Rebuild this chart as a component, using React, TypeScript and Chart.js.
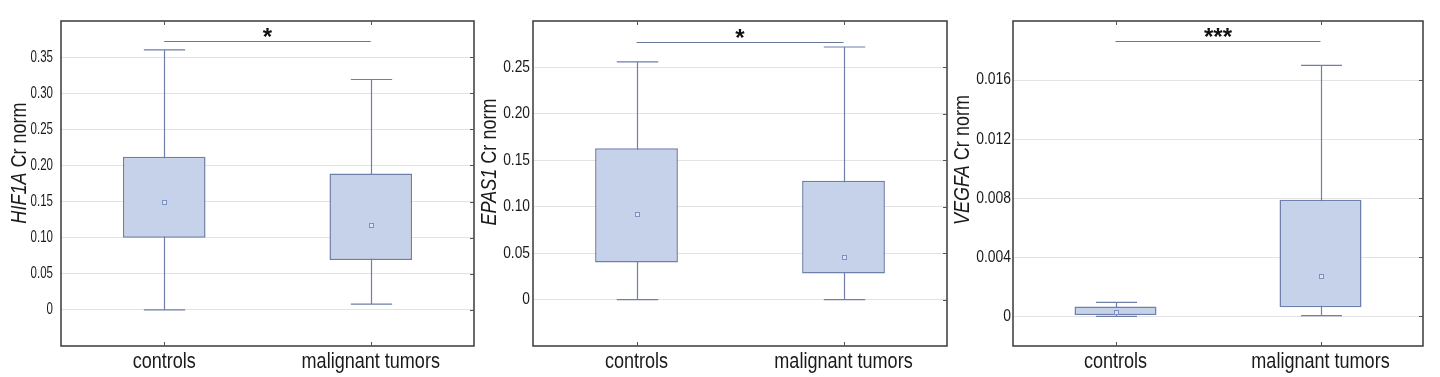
import React, { useEffect, useRef } from "react";
import { Chart, registerables } from "chart.js";

Chart.register(...registerables);

// ---------- data ----------
const categories = ["controls", "malignant tumors"];

const hif1aQ1 = [0.1, 0.069];
const hif1aQ3 = [0.212, 0.189];
const hif1aMean = [0.15, 0.118];
const hif1aMin = [0.0, 0.008];
const hif1aMax = [0.36, 0.319];
const hif1aTicks = [0, 0.05, 0.1, 0.15, 0.2, 0.25, 0.3, 0.35];
const hif1aTickLabels = ["0", "0.05", "0.10", "0.15", "0.20", "0.25", "0.30", "0.35"];
const hif1aSigLevel = 0.372;

const epas1Q1 = [0.04, 0.028];
const epas1Q3 = [0.163, 0.128];
const epas1Mean = [0.092, 0.046];
const epas1Min = [0.0, 0.0];
const epas1Max = [0.256, 0.272];
const epas1Ticks = [0, 0.05, 0.1, 0.15, 0.2, 0.25];
const epas1TickLabels = ["0", "0.05", "0.10", "0.15", "0.20", "0.25"];
const epas1SigLevel = 0.2777;

const vegfaQ1 = [0.0001, 0.00063];
const vegfaQ3 = [0.00068, 0.0079];
const vegfaMean = [0.0003, 0.00274];
const vegfaMin = [0.0, 0.00005];
const vegfaMax = [0.00095, 0.017];
const vegfaTicks = [0, 0.004, 0.008, 0.012, 0.016];
const vegfaTickLabels = ["0", "0.004", "0.008", "0.012", "0.016"];
const vegfaSigLevel = 0.01864;

const geneNames = ["HIF1A", "EPAS1", "VEGFA"];
const titleRest = " Cr norm";
const significance = ["*", "*", "***"];

// ---------- panels built from data ----------
const panels = [
  { gene: geneNames[0], q1: hif1aQ1, q3: hif1aQ3, mean: hif1aMean, min: hif1aMin, max: hif1aMax, yMin: -0.05, yMax: 0.4, ticks: hif1aTicks, tickLabels: hif1aTickLabels, sig: hif1aSigLevel, stars: significance[0] },
  { gene: geneNames[1], q1: epas1Q1, q3: epas1Q3, mean: epas1Mean, min: epas1Min, max: epas1Max, yMin: -0.05, yMax: 0.3, ticks: epas1Ticks, tickLabels: epas1TickLabels, sig: epas1SigLevel, stars: significance[1] },
  { gene: geneNames[2], q1: vegfaQ1, q3: vegfaQ3, mean: vegfaMean, min: vegfaMin, max: vegfaMax, yMin: -0.002, yMax: 0.02, ticks: vegfaTicks, tickLabels: vegfaTickLabels, sig: vegfaSigLevel, stars: significance[2] },
];

// ---------- layout / style ----------
const layouts = [
  { left: 0, width: 478, axisW: 61, rightPad: 4, titleX: 20, titleY: 163, tickGap: 8, tickScale: 0.72 },
  { left: 478, width: 472, axisW: 55, rightPad: 3, titleX: 12, titleY: 162, tickGap: 3, tickScale: 0.86 },
  { left: 950, width: 490, axisW: 63, rightPad: 17, titleX: 13, titleY: 160, tickGap: 2, tickScale: 0.87 },
];
const H = 377;
const TOP = 21;
const XAXIS_H = 31;
const XLABEL_BASELINE = 368;

const FONT = "'Liberation Sans', Arial, sans-serif";
const CONDENSE = 0.82;
const BOX_FILL = "#c5d2e9";
const BOX_EDGE = "#6e7fa9";
const WHISKER = "#6f7fa8";
const GRID = "#e3e3e3";
const FRAME = "#3a3a3a";
const TEXT = "#1a1a1a";

function drawText(ctx: CanvasRenderingContext2D, text: string, x: number, y: number, font: string, align: CanvasTextAlign, baseline: CanvasTextBaseline, sx: number) {
  ctx.save();
  ctx.translate(x, y);
  ctx.scale(sx, 1);
  ctx.font = font;
  ctx.textAlign = align;
  ctx.textBaseline = baseline;
  ctx.fillStyle = TEXT;
  ctx.fillText(text, 0, 0);
  ctx.restore();
}

function makePlugin(p: any, lay: any) {
  return {
    id: "boxExtras",
    beforeDatasetsDraw(chart: any) {
      const { ctx, scales } = chart;
      const x = scales.x, y = scales.y;
      const meta = chart.getDatasetMeta(0);
      ctx.save();
      ctx.strokeStyle = WHISKER;
      ctx.lineWidth = 1.2;
      p.q1.forEach((_: number, i: number) => {
        const cx = Math.round(x.getPixelForValue(i)) + 0.5;
        const bw = meta.data[i].width;
        const hw = bw * 0.25;
        const yMax = y.getPixelForValue(p.max[i]);
        const yMin = y.getPixelForValue(p.min[i]);
        ctx.beginPath();
        ctx.moveTo(cx, yMax);
        ctx.lineTo(cx, yMin);
        ctx.moveTo(cx - hw, yMax);
        ctx.lineTo(cx + hw, yMax);
        ctx.moveTo(cx - hw, yMin);
        ctx.lineTo(cx + hw, yMin);
        ctx.stroke();
      });
      ctx.restore();
    },
    afterDatasetsDraw(chart: any) {
      const { ctx, scales } = chart;
      const x = scales.x, y = scales.y;
      ctx.save();
      p.mean.forEach((m: number, i: number) => {
        const cx = Math.round(x.getPixelForValue(i));
        const cy = Math.round(y.getPixelForValue(m));
        ctx.fillStyle = "#dbe3f3";
        ctx.fillRect(cx - 2, cy - 2, 4, 4);
        ctx.strokeStyle = "#7d90c2";
        ctx.lineWidth = 1;
        ctx.strokeRect(cx - 2 + 0.5, cy - 2 + 0.5, 4, 4);
      });
      ctx.restore();
    },
    afterDraw(chart: any) {
      const { ctx, scales, chartArea } = chart;
      const x = scales.x, y = scales.y;
      const { left, right, top, bottom } = chartArea;
      ctx.save();
      // frame
      ctx.strokeStyle = FRAME;
      ctx.lineWidth = 1.5;
      ctx.strokeRect(left, top, right - left, bottom - top);
      // inward ticks
      ctx.lineWidth = 1;
      ctx.strokeStyle = "#555";
      ctx.beginPath();
      p.ticks.forEach((v: number) => {
        const ty = Math.round(y.getPixelForValue(v)) + 0.5;
        ctx.moveTo(right, ty);
        ctx.lineTo(right - 4, ty);
      });
      categories.forEach((_, i) => {
        const tx = Math.round(x.getPixelForValue(i)) + 0.5;
        ctx.moveTo(tx, top);
        ctx.lineTo(tx, top + 4);
        ctx.moveTo(tx, bottom);
        ctx.lineTo(tx, bottom - 4);
      });
      ctx.stroke();
      ctx.restore();

      // y tick labels (condensed)
      p.ticks.forEach((v: number, k: number) => {
        drawText(ctx, p.tickLabels[k], left - lay.tickGap, y.getPixelForValue(v), "16px " + FONT, "right", "middle", lay.tickScale);
      });
      // x category labels (condensed)
      categories.forEach((c, i) => {
        drawText(ctx, c, x.getPixelForValue(i), XLABEL_BASELINE, "22px " + FONT, "center", "alphabetic", CONDENSE);
      });

      // significance bar
      ctx.save();
      const sy = Math.round(y.getPixelForValue(p.sig)) + 0.5;
      const x0 = x.getPixelForValue(0);
      const x1 = x.getPixelForValue(1);
      ctx.strokeStyle = "#6b7797";
      ctx.lineWidth = 1.2;
      ctx.beginPath();
      ctx.moveTo(x0, sy);
      ctx.lineTo(x1, sy);
      ctx.stroke();
      ctx.fillStyle = "#111";
      ctx.font = "bold 24px " + FONT;
      ctx.textAlign = "center";
      ctx.textBaseline = "alphabetic";
      ctx.fillText(p.stars, (x0 + x1) / 2, sy + 3.5);
      ctx.restore();

      // y title with italic gene name (condensed)
      ctx.save();
      ctx.translate(lay.titleX, lay.titleY);
      ctx.rotate(-Math.PI / 2);
      ctx.scale(CONDENSE, 1);
      const italic = "italic 22px " + FONT;
      const normal = "22px " + FONT;
      ctx.font = italic;
      const w1 = ctx.measureText(p.gene).width;
      ctx.font = normal;
      const w2 = ctx.measureText(titleRest).width;
      const start = -(w1 + w2) / 2;
      ctx.fillStyle = TEXT;
      ctx.textAlign = "left";
      ctx.textBaseline = "middle";
      ctx.font = italic;
      ctx.fillText(p.gene, start, 0);
      ctx.font = normal;
      ctx.fillText(titleRest, start + w1, 0);
      ctx.restore();
    },
  };
}

function Panel({ idx }: { idx: number }) {
  const ref = useRef<HTMLCanvasElement>(null);
  const p = panels[idx];
  const lay = layouts[idx];
  useEffect(() => {
    const canvas = ref.current!;
    const chart = new Chart(canvas, {
      type: "bar",
      data: {
        labels: categories,
        datasets: [
          {
            data: p.q1.map((v, i) => [v, p.q3[i]]) as any,
            backgroundColor: BOX_FILL,
            borderColor: BOX_EDGE,
            borderWidth: 1.5,
            borderSkipped: false,
            categoryPercentage: 1,
            barPercentage: 0.4,
          },
        ],
      },
      options: {
        responsive: false,
        animation: false,
        devicePixelRatio: 1,
        layout: { padding: { top: TOP, right: lay.rightPad, bottom: 0, left: 0 } },
        plugins: { legend: { display: false }, tooltip: { enabled: false } },
        scales: {
          x: {
            grid: { display: false, drawTicks: false },
            border: { display: false },
            ticks: { display: false },
            afterFit: (s: any) => { s.height = XAXIS_H; },
          },
          y: {
            min: p.yMin,
            max: p.yMax,
            afterBuildTicks: (s: any) => { s.ticks = p.ticks.map((v) => ({ value: v })); },
            grid: { color: GRID, lineWidth: 1, drawTicks: false },
            border: { display: false },
            ticks: { display: false },
            afterFit: (s: any) => { s.width = lay.axisW; },
          },
        },
      },
      plugins: [makePlugin(p, lay)],
    });
    return () => chart.destroy();
  }, []);
  return (
    <canvas
      ref={ref}
      width={lay.width}
      height={H}
      style={{ position: "absolute", left: lay.left, top: 0, width: lay.width, height: H }}
    />
  );
}

export default function App() {
  return (
    <div style={{ position: "absolute", left: 0, top: 0, width: 1440, height: H, background: "#fff", overflow: "hidden" }}>
      {panels.map((_, i) => (
        <Panel key={i} idx={i} />
      ))}
    </div>
  );
}
